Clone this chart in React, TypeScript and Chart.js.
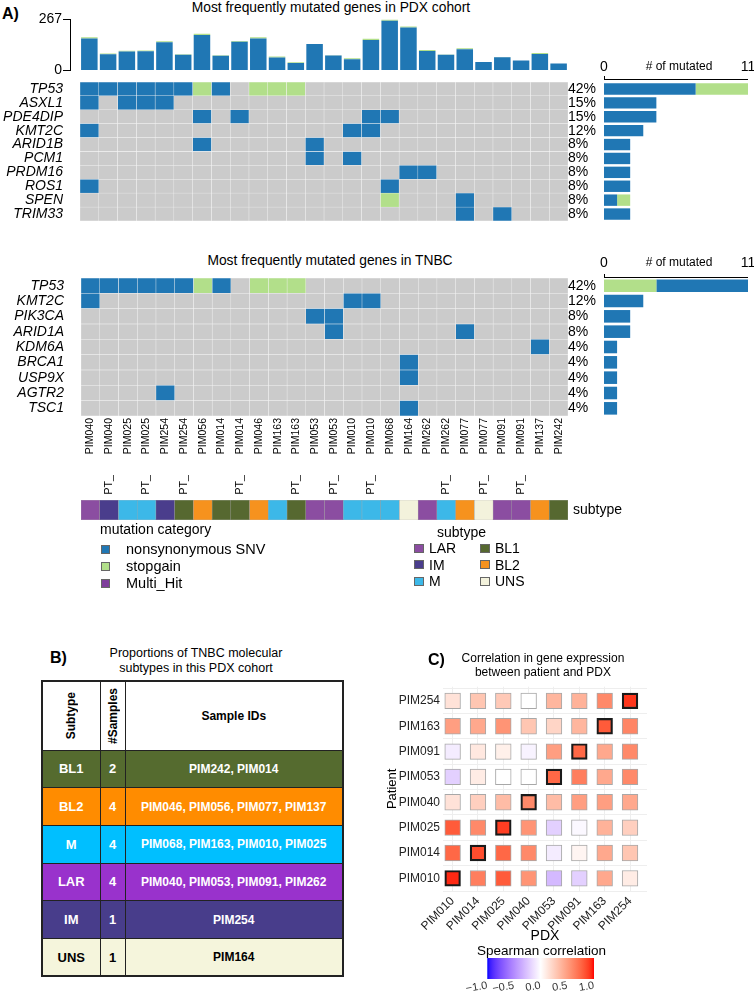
import React, { useEffect, useRef } from 'react';
import { Chart, registerables } from 'chart.js';

Chart.register(...registerables);

const FONT = "'Liberation Sans', Arial, Helvetica, sans-serif";
Chart.defaults.font.family = FONT;
Chart.defaults.color = '#000';

const BLUE = '#2077B4';
const GREEN = '#B2DF8A';
const GREY = '#CBCBCB';
const MULTI = '#7E3D9B';

// ---------- Panel A data ----------
const COLUMNS = [
  'PIM040', 'PT_PIM040', 'PIM025', 'PT_PIM025', 'PIM254', 'PT_PIM254', 'PIM056', 'PIM014', 'PT_PIM014',
  'PIM046', 'PIM163', 'PT_PIM163', 'PIM053', 'PT_PIM053', 'PIM010', 'PT_PIM010', 'PIM068', 'PIM164',
  'PIM262', 'PT_PIM262', 'PIM077', 'PT_PIM077', 'PIM091', 'PT_PIM091', 'PIM137', 'PIM242',
];
const BURDEN_SNV = [168, 85, 99, 101, 148, 82, 186, 77, 150, 168, 68, 39, 139, 78, 59, 160, 261, 225, 102, 82, 111, 44, 69, 53, 86, 36];
const BURDEN_STOPGAIN = [6, 4, 4, 4, 5, 3, 6, 3, 5, 6, 5, 4, 0, 2, 5, 6, 6, 6, 5, 2, 5, 0, 2, 0, 5, 0];
const BURDEN_TICKS = [0, 267];

const PDX_GENES = ['TP53', 'ASXL1', 'PDE4DIP', 'KMT2C', 'ARID1B', 'PCM1', 'PRDM16', 'ROS1', 'SPEN', 'TRIM33'];
const PDX_PCT = ['42%', '15%', '15%', '12%', '8%', '8%', '8%', '8%', '8%', '8%'];
const PDX_SNV_COLS = [[0, 1, 2, 3, 4, 5, 7], [0, 2, 3, 4], [6, 8, 15, 16], [0, 14, 15], [6, 12], [12, 14], [17, 18], [0, 16], [20], [20, 22]];
const PDX_STOP_COLS = [[6, 9, 10, 11], [], [], [], [], [], [], [], [16], []];

const TNBC_GENES = ['TP53', 'KMT2C', 'PIK3CA', 'ARID1A', 'KDM6A', 'BRCA1', 'USP9X', 'AGTR2', 'TSC1'];
const TNBC_PCT = ['42%', '12%', '8%', '8%', '4%', '4%', '4%', '4%', '4%'];
const TNBC_SNV_COLS = [[0, 1, 2, 3, 4, 5, 7], [0, 14, 15], [12, 13], [13, 20], [24], [17], [17], [4], [17]];
const TNBC_STOP_COLS = [[6, 9, 10, 11], [], [], [], [], [], [], [], []];

const MUT_AXIS_TICKS = [0, 11];

const COLUMN_SUBTYPE = ['LAR', 'IM', 'M', 'M', 'IM', 'BL1', 'BL2', 'BL1', 'BL1', 'BL2', 'M', 'BL1', 'LAR', 'LAR', 'M', 'M', 'M', 'UNS', 'LAR', 'M', 'BL2', 'UNS', 'LAR', 'LAR', 'BL2', 'BL1'];
const ONCO_SUBTYPE_COLOR: Record<string, string> = {
  LAR: '#8B4DA1', IM: '#4A3D8C', M: '#3CB8E8', BL1: '#566830', BL2: '#F6921E', UNS: '#F3F2DC',
};
const MUT_LEGEND_LABELS = ['nonsynonymous SNV', 'stopgain', 'Multi_Hit'];
const MUT_LEGEND_COLORS = [BLUE, GREEN, MULTI];
const SUBTYPE_LEGEND_COL1 = ['LAR', 'IM', 'M'];
const SUBTYPE_LEGEND_COL2 = ['BL1', 'BL2', 'UNS'];

// ---------- Panel B data ----------
const TABLE_SUBTYPES = ['BL1', 'BL2', 'M', 'LAR', 'IM', 'UNS'];
const TABLE_COUNTS = [2, 4, 4, 4, 1, 1];
const TABLE_IDS = ['PIM242, PIM014', 'PIM046, PIM056, PIM077, PIM137', 'PIM068, PIM163, PIM010, PIM025', 'PIM040, PIM053, PIM091, PIM262', 'PIM254', 'PIM164'];
const TABLE_COLORS = ['#556B2F', '#FF8C00', '#00BFFF', '#9932CC', '#483D8B', '#F5F5DC'];
const TABLE_TEXT = ['#fff', '#fff', '#fff', '#fff', '#fff', '#000'];

// ---------- Panel C data ----------
const PDX_IDS = ['PIM010', 'PIM014', 'PIM025', 'PIM040', 'PIM053', 'PIM091', 'PIM163', 'PIM254'];
const PATIENT_IDS = ['PIM010', 'PIM014', 'PIM025', 'PIM040', 'PIM053', 'PIM091', 'PIM163', 'PIM254'];
// rows: patient, cols: PDX
const CORR = [
  [0.95, 0.65, 0.8, 0.55, -0.3, -0.2, 0.45, 0.1],
  [0.75, 0.85, 0.75, 0.6, -0.08, 0.05, 0.45, 0.3],
  [0.8, 0.6, 0.9, 0.55, -0.2, -0.03, 0.4, 0.25],
  [0.15, 0.25, 0.35, 0.6, 0.35, 0.5, 0.5, 0.45],
  [-0.2, 0.1, 0.0, 0.0, 0.75, 0.65, 0.45, 0.6],
  [-0.08, 0.12, 0.08, -0.05, 0.5, 0.75, 0.45, 0.6],
  [0.5, 0.45, 0.55, 0.3, 0.22, 0.38, 0.8, 0.62],
  [0.15, 0.3, 0.28, 0.0, 0.38, 0.4, 0.6, 0.92],
];
const CBAR_TICKS = [-1, -0.5, 0, 0.5, 1];

// ---------- colour helpers (Lab interpolation like ggplot gradient2) ----------
function toLin(c: number) { c /= 255; return c <= 0.04045 ? c / 12.92 : Math.pow((c + 0.055) / 1.055, 2.4); }
function toSrgb(c: number) { c = Math.max(0, Math.min(1, c)); return 255 * (c <= 0.0031308 ? 12.92 * c : 1.055 * Math.pow(c, 1 / 2.4) - 0.055); }
function rgbToLab(rgb: number[]) {
  const [R, G, B] = rgb.map(toLin);
  const X = (0.4124 * R + 0.3576 * G + 0.1805 * B) / 0.95047;
  const Y = 0.2126 * R + 0.7152 * G + 0.0722 * B;
  const Z = (0.0193 * R + 0.1192 * G + 0.9505 * B) / 1.08883;
  const f = (t: number) => (t > 216 / 24389 ? Math.cbrt(t) : (24389 / 27 * t + 16) / 116);
  const fx = f(X), fy = f(Y), fz = f(Z);
  return [116 * fy - 16, 500 * (fx - fy), 200 * (fy - fz)];
}
function labToRgb(lab: number[]) {
  const [L, a, b] = lab;
  const fy = (L + 16) / 116, fx = fy + a / 500, fz = fy - b / 200;
  const inv = (t: number) => (t * t * t > 216 / 24389 ? t * t * t : (116 * t - 16) / (24389 / 27));
  const X = inv(fx) * 0.95047, Y = inv(fy), Z = inv(fz) * 1.08883;
  const R = 3.2406 * X - 1.5372 * Y - 0.4986 * Z;
  const G = -0.9689 * X + 1.8758 * Y + 0.0415 * Z;
  const B = 0.0557 * X - 0.204 * Y + 1.057 * Z;
  return [toSrgb(R), toSrgb(G), toSrgb(B)];
}
const LAB_WHITE = rgbToLab([255, 255, 255]);
const LAB_RED = rgbToLab([255, 0, 0]);
const LAB_BLUE = rgbToLab([0, 0, 255]);
function corrColor(v: number) {
  const end = v >= 0 ? LAB_RED : LAB_BLUE;
  const t = Math.min(1, Math.abs(v));
  const lab = LAB_WHITE.map((x, i) => x + (end[i] - x) * t);
  const [r, g, b] = labToRgb(lab);
  return `rgb(${Math.round(r)},${Math.round(g)},${Math.round(b)})`;
}

// ---------- chart configs ----------
const noPlugins = { legend: { display: false }, tooltip: { enabled: false } };

// fix an axis box size and stop its labels from pushing the chart area around
function fixWidth(w: number) {
  return (s: any) => { s.width = w; s.paddingTop = 0; s.paddingBottom = 0; s.paddingLeft = 0; s.paddingRight = 0; };
}
function fixHeight(h: number) {
  return (s: any) => { s.height = h; s.paddingTop = 0; s.paddingBottom = 0; s.paddingLeft = 0; s.paddingRight = 0; };
}

function burdenConfig() {
  const ds = (label: string, vals: number[], color: string) => ({
    label,
    data: vals.map((v, i) => ({ x: i + 0.5, y: v })),
    backgroundColor: color,
    barPercentage: 0.88,
    categoryPercentage: 1,
  });
  return {
    type: 'bar',
    data: { datasets: [ds('nonsynonymous SNV', BURDEN_SNV, BLUE), ds('stopgain', BURDEN_STOPGAIN, GREEN)] },
    options: {
      responsive: false,
      animation: false,
      layout: { autoPadding: false, padding: { left: 0, right: 12, top: 11.5, bottom: 3.5 } },
      plugins: noPlugins,
      scales: {
        x: { type: 'linear', offset: false, min: -0.53, max: COLUMNS.length, stacked: true, display: false },
        y: {
          stacked: true, min: 0, max: BURDEN_TICKS[1],
          afterBuildTicks: (s: any) => { s.ticks = BURDEN_TICKS.map((v) => ({ value: v })); },
          afterFit: fixWidth(70),
          border: { display: true, color: '#000', width: 1 },
          grid: { display: true, drawOnChartArea: false, drawTicks: true, tickLength: 7, color: '#000' },
          ticks: { font: { size: 14 }, color: '#000', padding: 1 },
        },
      },
    },
  };
}

function cellColor(r: number, c: number, snv: number[][], stop: number[][]) {
  if (stop[r].includes(c)) return GREEN;
  if (snv[r].includes(c)) return BLUE;
  return GREY;
}

function columnLabel(name: string) {
  return name.replace('PT_', 'PT_\u2002\u2002\u2002\u2002');
}

function matrixConfig(genes: string[], pcts: string[], snv: number[][], stop: number[][], leftW: number, rightW: number, padTop: number, padBottom: number, labelH: number) {
  return {
    type: 'bar',
    data: {
      labels: genes,
      datasets: COLUMNS.map((col, c) => ({
        label: col,
        data: genes.map(() => [c, c + 1]),
        backgroundColor: genes.map((_, r) => cellColor(r, c, snv, stop)),
        borderColor: '#F4F4F4',
        borderWidth: 0.5,
        borderSkipped: false,
        barPercentage: 1,
        categoryPercentage: 1,
        grouped: false,
      })),
    },
    options: {
      indexAxis: 'y',
      responsive: false,
      animation: false,
      layout: { autoPadding: false, padding: { left: 0, right: 0, top: padTop, bottom: padBottom } },
      plugins: noPlugins,
      scales: {
        x: {
          type: 'linear', offset: false, min: 0, max: COLUMNS.length, position: 'bottom', display: labelH > 0,
          grid: { display: false, drawTicks: false }, border: { display: false },
          afterBuildTicks: (s: any) => { s.ticks = COLUMNS.map((_, i) => ({ value: i + 0.5 })); },
          afterFit: fixHeight(labelH),
          ticks: { autoSkip: false, minRotation: 90, maxRotation: 90, padding: 2, font: { size: 10.5 }, color: '#000', callback: (_v: any, i: number) => columnLabel(COLUMNS[i]) },
        },
        y: {
          type: 'category', labels: genes, position: 'left', offset: true,
          grid: { display: false, drawTicks: false }, border: { display: false },
          ticks: { autoSkip: false, font: { size: 14, style: 'italic' }, color: '#000', padding: 17 },
          afterFit: fixWidth(leftW),
        },
        y2: {
          type: 'category', labels: pcts, position: 'right', offset: true,
          grid: { display: false, drawTicks: false }, border: { display: false },
          ticks: { autoSkip: false, font: { size: 14 }, color: '#000', padding: 0 },
          afterFit: fixWidth(rightW),
        },
      },
    },
  };
}

function mutAxisPlugin(gap: number) {
  return {
    id: 'mutAxis',
    afterDraw(chart: any) {
      const { ctx, chartArea, scales } = chart;
      const x0 = scales.x.getPixelForValue(MUT_AXIS_TICKS[0]);
      const x1 = scales.x.getPixelForValue(MUT_AXIS_TICKS[1]);
      const y = Math.round(chartArea.top - gap);
      ctx.save();
      ctx.fillStyle = '#000';
      ctx.fillRect(x0, y, x1 - x0, 1);
      ctx.fillRect(x0, y - 3, 1, 3);
      ctx.font = `12px ${FONT}`;
      ctx.textAlign = 'center';
      ctx.textBaseline = 'middle';
      ctx.fillText('# of mutated', (x0 + x1) / 2 + 3, chartArea.top - 15);
      ctx.restore();
    },
  };
}

function mutBarConfig(genes: string[], snv: number[][], stop: number[][], stopFirst: boolean, gap: number) {
  const dsSnv = { label: 'nonsynonymous SNV', data: snv.map((a) => a.length), backgroundColor: BLUE, barPercentage: 0.82, categoryPercentage: 1 };
  const dsStop = { label: 'stopgain', data: stop.map((a) => a.length), backgroundColor: GREEN, barPercentage: 0.82, categoryPercentage: 1 };
  return {
    type: 'bar',
    data: { labels: genes, datasets: stopFirst ? [dsStop, dsSnv] : [dsSnv, dsStop] },
    options: {
      indexAxis: 'y',
      responsive: false,
      animation: false,
      layout: { autoPadding: false, padding: { left: 14, right: 6, top: 0, bottom: 2 } },
      plugins: noPlugins,
      scales: {
        x: {
          stacked: true, min: MUT_AXIS_TICKS[0], max: MUT_AXIS_TICKS[1], position: 'top',
          afterBuildTicks: (s: any) => { s.ticks = MUT_AXIS_TICKS.map((v) => ({ value: v })); },
          afterFit: fixHeight(32),
          grid: { display: false, drawTicks: false }, border: { display: false },
          ticks: { font: { size: 14 }, color: '#000', padding: 6.5 },
        },
        y: { stacked: true, display: false, offset: true },
      },
    },
    plugins: [mutAxisPlugin(gap)],
  };
}

function subtypeBarConfig() {
  return {
    type: 'bar',
    data: {
      labels: COLUMNS,
      datasets: [{
        label: 'subtype',
        data: COLUMNS.map(() => 1),
        backgroundColor: COLUMN_SUBTYPE.map((s) => ONCO_SUBTYPE_COLOR[s]),
        borderColor: 'rgba(140,140,140,0.7)',
        borderWidth: 0.5,
        borderSkipped: false,
        barPercentage: 1,
        categoryPercentage: 1,
      }],
    },
    options: {
      responsive: false,
      animation: false,
      layout: { autoPadding: false, padding: { left: 81, right: 0, top: 5, bottom: 5 } },
      plugins: noPlugins,
      scales: {
        x: { display: false },
        y: {
          min: 0, max: 1, position: 'right',
          afterBuildTicks: (s: any) => { s.ticks = [{ value: 0.5 }]; },
          grid: { display: false, drawTicks: false }, border: { display: false },
          ticks: { font: { size: 14 }, color: '#000', padding: 5, callback: () => 'subtype' },
          afterFit: fixWidth(72),
        },
      },
    },
  };
}

function heatConfig() {
  return {
    type: 'bar',
    data: {
      datasets: PDX_IDS.map((pdx, c) => ({
        label: pdx,
        data: PATIENT_IDS.map((_, r) => ({ y: r, x: [c - 0.31, c + 0.31] })),
        backgroundColor: PATIENT_IDS.map((_, r) => corrColor(CORR[r][c])),
        borderColor: PATIENT_IDS.map((_, r) => (r === c ? '#1a1a1a' : '#a8a8a8')),
        borderWidth: PATIENT_IDS.map((_, r) => (r === c ? 2.2 : 1)),
        borderSkipped: false,
        barThickness: 15.7,
        grouped: false,
      })),
    },
    options: {
      indexAxis: 'y',
      responsive: false,
      animation: false,
      layout: { autoPadding: false, padding: { left: 0, right: 13, top: 6.7, bottom: 0 } },
      plugins: noPlugins,
      scales: {
        x: {
          type: 'linear', offset: false, min: -0.38, max: 7.67,
          afterBuildTicks: (s: any) => { s.ticks = PDX_IDS.map((_, i) => ({ value: i })); },
          afterFit: fixHeight(59),
          ticks: { autoSkip: false, minRotation: 45, maxRotation: 45, padding: 3, font: { size: 12 }, color: '#222', callback: (_v: any, i: number) => PDX_IDS[i] },
          grid: { color: '#EEEEEE', drawTicks: false },
          border: { display: false },
          title: { display: true, text: 'PDX', font: { size: 14 }, color: '#000', padding: { top: 0, bottom: 5 } },
        },
        y: {
          type: 'linear', offset: false, min: -0.5, max: 7.56,
          afterBuildTicks: (s: any) => { s.ticks = PATIENT_IDS.map((_, i) => ({ value: i })); },
          afterFit: fixWidth(63),
          ticks: { autoSkip: false, font: { size: 12 }, color: '#222', padding: 3, callback: (_v: any, i: number) => PATIENT_IDS[i] },
          grid: { color: '#EEEEEE', drawTicks: false },
          border: { display: false },
          title: { display: true, text: 'Patient', font: { size: 13 }, color: '#000', padding: { top: 5, bottom: 0 } },
        },
      },
    },
  };
}

function colorbarConfig() {
  return {
    type: 'bar',
    data: {
      labels: [''],
      datasets: [{
        data: [[CBAR_TICKS[0], CBAR_TICKS[CBAR_TICKS.length - 1]]],
        backgroundColor: (ctx: any) => {
          const { chart } = ctx;
          const area = chart.chartArea;
          if (!area) return '#fff';
          const g = chart.ctx.createLinearGradient(area.left, 0, area.right, 0);
          for (let i = 0; i <= 40; i++) {
            const v = -1 + (2 * i) / 40;
            g.addColorStop(i / 40, corrColor(v));
          }
          return g;
        },
        barPercentage: 1,
        categoryPercentage: 1,
        borderWidth: 0,
      }],
    },
    options: {
      indexAxis: 'y',
      responsive: false,
      animation: false,
      layout: { autoPadding: false, padding: { left: 21.3, right: 22, top: 18, bottom: 0 } },
      plugins: noPlugins,
      scales: {
        x: {
          min: CBAR_TICKS[0], max: CBAR_TICKS[CBAR_TICKS.length - 1],
          afterBuildTicks: (s: any) => { s.ticks = CBAR_TICKS.map((v) => ({ value: v })); },
          afterFit: fixHeight(12),
          ticks: { font: { size: 11 }, color: '#333', padding: 0, callback: (v: number) => (v < 0 ? '\u2212' : '') + Math.abs(v).toFixed(1) },
          grid: { display: false, drawTicks: false },
          border: { display: false },
        },
        y: { display: false },
      },
    },
  };
}

// ---------- components ----------
function ChartBox({ left, top, width, height, make }: { left: number; top: number; width: number; height: number; make: () => any }) {
  const ref = useRef<HTMLCanvasElement | null>(null);
  useEffect(() => {
    if (!ref.current) return;
    const chart = new Chart(ref.current, make());
    return () => chart.destroy();
  }, []);
  return <canvas ref={ref} width={width} height={height} style={{ position: 'absolute', left, top, width, height }} />;
}

function Txt({ x, y, size, children, bold = false, family = FONT, center = false, w = 400, spacing = 0 }: any) {
  const lh = Math.round(size * 1.25);
  const style: any = {
    position: 'absolute', top: y - lh / 2, fontSize: size, lineHeight: lh + 'px', fontFamily: family,
    fontWeight: bold ? 700 : 400, whiteSpace: 'nowrap', color: '#000', letterSpacing: spacing,
  };
  if (center) { style.left = x - w / 2; style.width = w; style.textAlign = 'center'; } else { style.left = x; }
  return <div style={style}>{children}</div>;
}

function Swatch({ x, y, color, w = 9, h = 9 }: any) {
  return <div style={{ position: 'absolute', left: x, top: y - h / 2, width: w, height: h, background: color, border: '1px solid #666', boxSizing: 'border-box' }} />;
}

function SubtypeTable() {
  const cellBorder = '1.5px solid #222';
  const rowH = 37.7;
  return (
    <table style={{ position: 'absolute', left: 41, top: 680, width: 301, height: 296, borderCollapse: 'collapse', tableLayout: 'fixed', border: '2px solid #222', fontFamily: FONT }}>
      <colgroup><col style={{ width: 58 }} /><col style={{ width: 25 }} /><col style={{ width: 218 }} /></colgroup>
      <tbody>
        <tr style={{ height: 69 }}>
          <td style={{ border: cellBorder, background: '#fff', textAlign: 'center', padding: 0 }}>
            <div style={{ writingMode: 'vertical-rl', transform: 'rotate(180deg)', fontWeight: 700, fontSize: 12, margin: '0 auto' }}>Subtype</div>
          </td>
          <td style={{ border: cellBorder, background: '#fff', textAlign: 'center', padding: 0 }}>
            <div style={{ writingMode: 'vertical-rl', transform: 'rotate(180deg)', fontWeight: 700, fontSize: 12, margin: '0 auto' }}>#Samples</div>
          </td>
          <td style={{ border: cellBorder, background: '#fff', textAlign: 'center', fontWeight: 700, fontSize: 12, padding: 0 }}>Sample IDs</td>
        </tr>
        {TABLE_SUBTYPES.map((s, i) => (
          <tr key={s} style={{ height: rowH }}>
            <td style={{ border: cellBorder, background: TABLE_COLORS[i], color: TABLE_TEXT[i], textAlign: 'center', fontWeight: 700, fontSize: 13, padding: 0 }}>{s}</td>
            <td style={{ border: cellBorder, background: TABLE_COLORS[i], color: TABLE_TEXT[i], textAlign: 'center', fontWeight: 700, fontSize: 13, padding: 0 }}>{TABLE_COUNTS[i]}</td>
            <td style={{ border: cellBorder, background: TABLE_COLORS[i], color: TABLE_TEXT[i], textAlign: 'center', fontWeight: 700, fontSize: 12, padding: 0 }}>{TABLE_IDS[i]}</td>
          </tr>
        ))}
      </tbody>
    </table>
  );
}

export default function App() {
  const legendY = [549, 566, 583];
  const subLegendY = [548, 564.5, 581];
  return (
    <div style={{ position: 'absolute', left: 0, top: 0, width: 754, height: 991, overflow: 'hidden', background: '#fff', fontFamily: FONT }}>
      {/* Panel A */}
      <Txt x={2} y={13.5} size={16} bold>A)</Txt>
      <Txt x={331} y={7} size={13.8} center>Most frequently mutated genes in PDX cohort</Txt>
      <Txt x={330} y={260} size={13.8} center>Most frequently mutated genes in TNBC</Txt>

      <ChartBox left={0} top={8} width={580} height={66} make={burdenConfig} />
      <ChartBox left={0} top={80} width={604} height={145} make={() => matrixConfig(PDX_GENES, PDX_PCT, PDX_SNV_COLS, PDX_STOP_COLS, 80, 36, 2, 4, 0)} />
      <ChartBox left={590} top={50} width={164} height={173} make={() => mutBarConfig(PDX_GENES, PDX_SNV_COLS, PDX_STOP_COLS, false, 3)} />
      <ChartBox left={0} top={272} width={604} height={230} make={() => matrixConfig(TNBC_GENES, TNBC_PCT, TNBC_SNV_COLS, TNBC_STOP_COLS, 81, 36, 6, 0, 86)} />
      <ChartBox left={590} top={246} width={164} height={172} make={() => mutBarConfig(TNBC_GENES, TNBC_SNV_COLS, TNBC_STOP_COLS, true, 1)} />
      <ChartBox left={0} top={495} width={640} height={30} make={subtypeBarConfig} />

      {/* legends */}
      <Txt x={100} y={529} size={14}>mutation category</Txt>
      {MUT_LEGEND_LABELS.map((l, i) => (
        <React.Fragment key={l}>
          <Swatch x={101} y={legendY[i]} color={MUT_LEGEND_COLORS[i]} />
          <Txt x={126} y={legendY[i]} size={14.5}>{l}</Txt>
        </React.Fragment>
      ))}
      <Txt x={437} y={532} size={14}>subtype</Txt>
      {SUBTYPE_LEGEND_COL1.map((s, i) => (
        <React.Fragment key={s}>
          <Swatch x={414} y={subLegendY[i]} color={ONCO_SUBTYPE_COLOR[s]} w={10} h={9} />
          <Txt x={429} y={subLegendY[i]} size={14}>{s}</Txt>
        </React.Fragment>
      ))}
      {SUBTYPE_LEGEND_COL2.map((s, i) => (
        <React.Fragment key={s}>
          <Swatch x={480} y={subLegendY[i]} color={ONCO_SUBTYPE_COLOR[s]} w={10} h={9} />
          <Txt x={495} y={subLegendY[i]} size={14}>{s}</Txt>
        </React.Fragment>
      ))}

      {/* Panel B */}
      <Txt x={50} y={658} size={16} bold>B)</Txt>
      <Txt x={196} y={653} size={12.5} center>Proportions of TNBC molecular</Txt>
      <Txt x={196} y={668} size={12.5} center>subtypes in this PDX cohort</Txt>
      <SubtypeTable />

      {/* Panel C */}
      <Txt x={428} y={660} size={16} bold>C)</Txt>
      <Txt x={543} y={658} size={12} center>Correlation in gene expression</Txt>
      <Txt x={543} y={672} size={12} center>between patient and PDX</Txt>
      <ChartBox left={380} top={680} width={280} height={270} make={heatConfig} />
      <Txt x={541.5} y={950} size={13.5} center>Spearman correlation</Txt>
      <ChartBox left={466} top={940} width={150} height={51} make={colorbarConfig} />
    </div>
  );
}
